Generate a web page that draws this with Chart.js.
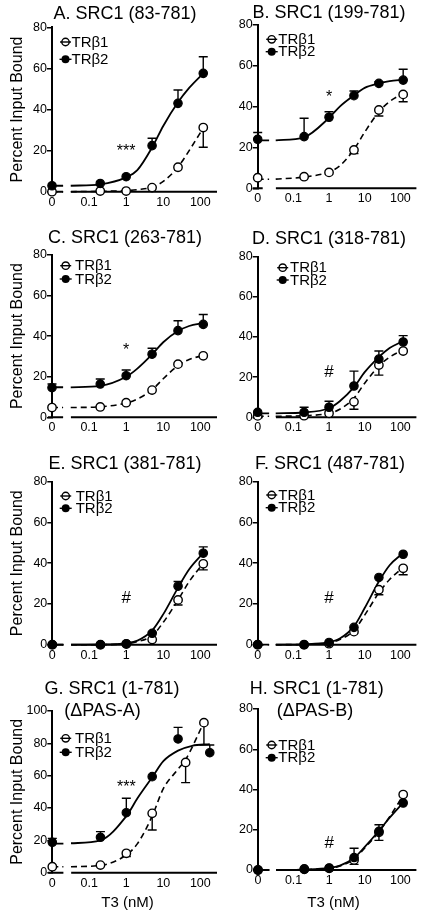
<!DOCTYPE html>
<html><head><meta charset="utf-8">
<script src="https://cdn.jsdelivr.net/npm/chart.js@4.4.1/dist/chart.umd.min.js"></script>
<style>
html,body{margin:0;padding:0;background:#fff;}
#wrap{position:relative;width:422px;height:912px;overflow:hidden;background:#fff;}
#wrap canvas{position:absolute;left:0;top:0;}
</style>
</head><body><div id="wrap"></div>
<script>
// ---------- data ----------
const X_TICK_VALUES = [0, 0.1, 1, 10, 100];
const X_TICK_LABELS = ['0', '0.1', '1', '10', '100'];
const CONC = [0, 0.2, 1, 5, 25, 120];
const FIT_CONC = [0, 0.032, 0.2, 1, 2, 5, 10, 25, 50, 120];
const G_CONC_B1 = [0, 0.2, 1, 5, 40, 125];
const G_CONC_B2 = [0, 0.2, 1, 5, 25, 180];
const G_FIT_CONC_B1 = [0, 0.032, 0.2, 1, 2, 5, 10, 25, 40, 125];
const G_FIT_CONC_B2 = [0, 0.032, 0.2, 1, 2, 5, 10, 25, 60, 180];

const A_B1 = [0, 0.3, 0.3, 2, 11.9, 31.2];
const A_B1_ERR = [0, 0, 0, 0, 0, 9.6];
const A_B2 = [2.9, 4, 7.3, 22.4, 43, 57.6];
const A_B2_ERR = [0, 0, 0, 3.6, 6.5, 8.1];
const A_FIT1 = [0, 0, 0.2, 0.5, 1, 2.2, 5, 12, 20, 31];
const A_FIT2 = [2.9, 2.9, 3.6, 7, 10.5, 21.5, 32, 43.5, 50.5, 57.6];

const B_B1 = [5.2, 5.7, 7.8, 18.8, 38.4, 46];
const B_B1_ERR = [0, 0, 0, 1.8, 3, 3.6];
const B_B2 = [24, 25.3, 34.8, 45.4, 51.4, 53];
const B_B2_ERR = [3.3, 9, 2.7, 2.3, 0.8, 5.3];
const B_FIT1 = [4.4, 4.5, 5.5, 8, 11, 19, 27.5, 37.5, 42.5, 46.5];
const B_FIT2 = [23.5, 23.5, 25, 34.5, 40, 45.5, 49.2, 51.4, 52.5, 53.2];

const C_B1 = [4.8, 5.1, 7.2, 13.4, 26.2, 30.3];
const C_B1_ERR = [0, 0, 0, 0, 0, 0];
const C_B2 = [14.6, 16.4, 20.5, 31.1, 42.7, 45.8];
const C_B2_ERR = [1.8, 2.5, 2.8, 2.9, 4.9, 4.9];
const C_FIT1 = [4.8, 4.8, 5.2, 7, 9, 13.5, 19, 25.5, 28.5, 30.5];
const C_FIT2 = [14.8, 14.8, 15.5, 20, 24, 31, 37, 42.5, 45, 46.5];

const D_B1 = [0.7, 0.8, 2, 7.7, 26, 33];
const D_B1_ERR = [0, 0, 0, 3.7, 5, 0];
const D_B2 = [2.5, 2.5, 5, 15.6, 29, 37.5];
const D_B2_ERR = [0, 2.5, 3, 7.4, 4, 3.2];
const D_FIT1 = [0.5, 0.5, 0.8, 2, 4, 9.5, 17, 25.5, 30, 33.5];
const D_FIT2 = [2, 2, 2.4, 4.5, 8, 15, 22.5, 30, 34.5, 38];

const E_B1 = [0, 0, 0.3, 2.5, 22, 39.7];
const E_B1_ERR = [0, 0, 0, 0, 2.5, 3];
const E_B2 = [0, 0, 0.5, 5.6, 28.7, 44.9];
const E_B2_ERR = [0, 0, 0, 0.5, 2.3, 3.1];
const E_FIT1 = [0, 0, 0, 0.5, 1.5, 4.5, 11, 22, 31, 40];
const E_FIT2 = [0, 0, 0.1, 0.8, 2, 7, 15, 28, 37, 45];

const F_B1 = [0, 0, 0.5, 6.4, 27, 37.5];
const F_B1_ERR = [0, 0, 0, 0, 2.5, 3.2];
const F_B2 = [0, 0, 1.1, 8.5, 33, 44.4];
const F_B2_ERR = [0, 0, 0, 0, 0, 0];
const F_FIT1 = [0, 0, 0.1, 1, 2.5, 7, 14.5, 25.5, 32, 38];
const F_FIT2 = [0, 0, 0.2, 1.2, 3, 9, 18, 31, 39, 45];

const G_B1 = [3.7, 4.7, 12, 36.7, 68.2, 92.8];
const G_B1_ERR = [0, 0, 2, 10.3, 12.5, 13.8];
const G_B2 = [18.8, 21.9, 37.1, 59.4, 82.7, 74.2];
const G_B2_ERR = [2.4, 3.5, 8.9, 0, 7.2, 4.8];
const G_FIT1 = [3.7, 3.7, 4.5, 11, 18, 35, 52, 64, 70, 93];
const G_FIT2 = [18, 18.2, 20, 35, 46, 59, 69, 75.5, 78.5, 79.5];

const H_B1 = [0, 0.5, 0.8, 5, 18.7, 37.5];
const H_B1_ERR = [0, 0, 0, 2.2, 4, 0];
const H_B2 = [0, 0.3, 1, 6.2, 19.2, 33.3];
const H_B2_ERR = [0, 0, 0, 4.6, 3.3, 0];
const H_FIT1 = [0, 0, 0.2, 0.9, 2, 5.5, 11, 19, 26.5, 37];
const H_FIT2 = [0, 0, 0.2, 1, 2.2, 6, 11.5, 19.5, 26, 33.5];

// ---------- layout ----------
const FONT = '"Liberation Sans", Arial, Helvetica, sans-serif';
const W = 422, H = 912;
const X_MIN = -2, X_MAX = 2.45;
const BRK_LEFT = {segA: -2.11, segB: -1.70, main: -1.49, curveEnd: -1.70};
const BRK_RIGHT = {segA: -2.14, segB: -1.86, main: -1.49, curveEnd: -1.68};

function toU(c) { return c === 0 ? X_MIN : Math.log10(c); }

const PANELS = [
  {L:52, top:27.3, bottom:191.7, col:0, ymax:80, titles:[['A. SRC1 (83-781)',125,19]],
   legend:[65.5,42,59.3,71.5], note:['***',1,21.9],
   c1:CONC, c2:CONC, f1c:FIT_CONC, f2c:FIT_CONC, b1:A_B1, e1:A_B1_ERR, b2:A_B2, e2:A_B2_ERR, f1:A_FIT1, f2:A_FIT2},
  {L:257.7, top:25, bottom:188.3, col:1, ymax:80, titles:[['B. SRC1 (199-781)',329,17.5]],
   legend:[271.7,39.3,51.7,278.3], note:['*',1,46.7],
   c1:CONC, c2:CONC, f1c:FIT_CONC, f2c:FIT_CONC, b1:B_B1, e1:B_B1_ERR, b2:B_B2, e2:B_B2_ERR, f1:B_FIT1, f2:B_FIT2},
  {L:52, top:255, bottom:417.3, col:0, ymax:80, titles:[['C. SRC1 (263-781)',125,243.3]],
   legend:[65.7,265.7,279,75], note:['*',1,35.3],
   c1:CONC, c2:CONC, f1c:FIT_CONC, f2c:FIT_CONC, b1:C_B1, e1:C_B1_ERR, b2:C_B2, e2:C_B2_ERR, f1:C_FIT1, f2:C_FIT2},
  {L:257.7, top:256.7, bottom:417.3, col:1, ymax:80, titles:[['D. SRC1 (318-781)',329,244.3]],
   legend:[282.7,267.7,280,290], note:['#',1,23.3],
   c1:CONC, c2:CONC, f1c:FIT_CONC, f2c:FIT_CONC, b1:D_B1, e1:D_B1_ERR, b2:D_B2, e2:D_B2_ERR, f1:D_FIT1, f2:D_FIT2},
  {L:52.3, top:481.7, bottom:644.7, col:0, ymax:80, titles:[['E. SRC1 (381-781)',125,469.3]],
   legend:[65.7,496,508.3,75.7], note:['#',1,23.4],
   c1:CONC, c2:CONC, f1c:FIT_CONC, f2c:FIT_CONC, b1:E_B1, e1:E_B1_ERR, b2:E_B2, e2:E_B2_ERR, f1:E_FIT1, f2:E_FIT2},
  {L:257.7, top:481.7, bottom:644.7, col:1, ymax:80, titles:[['F. SRC1 (487-781)',330,469.3]],
   legend:[271.7,495,507.7,278.3], note:['#',1,23.5],
   c1:CONC, c2:CONC, f1c:FIT_CONC, f2c:FIT_CONC, b1:F_B1, e1:F_B1_ERR, b2:F_B2, e2:F_B2_ERR, f1:F_FIT1, f2:F_FIT2},
  {L:52.3, top:711, bottom:872.7, col:0, ymax:100, titles:[['G. SRC1 (1-781)',112,694.3],['(\u0394PAS-A)',102.5,716]],
   legend:[65.7,738.3,752.3,75], note:['***',1,55.7], xTitle:[127.5,906.7],
   c1:G_CONC_B1, c2:G_CONC_B2, f1c:G_FIT_CONC_B1, f2c:G_FIT_CONC_B2, b1:G_B1, e1:G_B1_ERR, b2:G_B2, e2:G_B2_ERR, f1:G_FIT1, f2:G_FIT2},
  {L:258, top:709, bottom:870, col:1, ymax:80, titles:[['H. SRC1 (1-781)',316.7,694.3],['(\u0394PAS-B)',315,716]],
   legend:[271.7,745,757.7,278.3], note:['#',1,13.9], xTitle:[333.5,906.7],
   c1:CONC, c2:CONC, f1c:FIT_CONC, f2c:FIT_CONC, b1:H_B1, e1:H_B1_ERR, b2:H_B2, e2:H_B2_ERR, f1:H_FIT1, f2:H_FIT2}
];

function pts(conc, vals) { return conc.map((c, i) => ({x: toU(c), y: vals[i]})); }
function curvePts(conc, vals, brk) {
  const out = [{x: toU(0), y: vals[0]}, {x: brk.curveEnd, y: vals[0]}, {x: (brk.curveEnd + brk.main) / 2, y: null}];
  for (let i = 1; i < conc.length; i++) out.push({x: toU(conc[i]), y: vals[i]});
  return out;
}

const deco = {
  id: 'deco',
  beforeDatasetsDraw(chart) {
    const p = chart.canvas._panel, brk = p.col ? BRK_RIGHT : BRK_LEFT;
    const ctx = chart.ctx, xs = chart.scales.x, ys = chart.scales.y;
    const y0 = ys.getPixelForValue(0);
    ctx.save();
    ctx.strokeStyle = '#000'; ctx.lineWidth = 2; ctx.lineCap = 'butt';
    ctx.beginPath();
    ctx.moveTo(xs.getPixelForValue(brk.segA), y0);
    ctx.lineTo(xs.getPixelForValue(brk.segB), y0);
    ctx.moveTo(xs.getPixelForValue(brk.main), y0);
    ctx.lineTo(xs.right, y0);
    ctx.stroke();
    ctx.lineWidth = 1.4;
    ctx.beginPath();
    const bars = (conc, vals, errs, dir) => {
      for (let i = 0; i < conc.length; i++) {
        if (!errs[i]) continue;
        const px = xs.getPixelForValue(toU(conc[i]));
        const py = ys.getPixelForValue(vals[i]);
        const pe = ys.getPixelForValue(vals[i] + dir * errs[i]);
        ctx.moveTo(px, py); ctx.lineTo(px, pe);
        ctx.moveTo(px - 4.5, pe); ctx.lineTo(px + 4.5, pe);
      }
    };
    bars(p.c1, p.b1, p.e1, -1);
    bars(p.c2, p.b2, p.e2, 1);
    ctx.stroke();
    ctx.restore();
  },
  afterDraw(chart) {
    const p = chart.canvas._panel;
    const ctx = chart.ctx, xs = chart.scales.x, ys = chart.scales.y;
    ctx.save();
    ctx.fillStyle = '#000'; ctx.strokeStyle = '#000';
    // titles
    ctx.font = '18px ' + FONT; ctx.textAlign = 'center'; ctx.textBaseline = 'alphabetic';
    p.titles.forEach(t => ctx.fillText(t[0], t[1], t[2]));
    // legend
    const [lx, ly1, ly2, tx] = p.legend;
    const ds = chart.data.datasets;
    ctx.lineWidth = 1.4;
    ctx.beginPath(); ctx.arc(lx, ly1, 3.7, 0, Math.PI * 2); ctx.fillStyle = '#fff'; ctx.fill(); ctx.stroke();
    ctx.beginPath(); ctx.moveTo(lx - 5.5, ly1); ctx.lineTo(lx + 5.5, ly1); ctx.stroke();
    ctx.beginPath(); ctx.moveTo(lx - 6, ly2); ctx.lineTo(lx + 6, ly2); ctx.stroke();
    ctx.fillStyle = '#000';
    ctx.beginPath(); ctx.arc(lx, ly2, 4, 0, Math.PI * 2); ctx.fill();
    ctx.font = '15px ' + FONT; ctx.textAlign = 'left'; ctx.textBaseline = 'middle';
    ctx.fillText(ds[1].label, tx, ly1 + 0.5);
    ctx.fillText(ds[0].label, tx, ly2 + 0.5);
    // annotation
    const [nt, nc, nv] = p.note;
    const star = nt.indexOf('*') >= 0;
    const size = star ? 16 : 17;
    ctx.font = size + 'px ' + FONT; ctx.textAlign = 'center'; ctx.textBaseline = 'alphabetic';
    ctx.fillText(nt, xs.getPixelForValue(toU(nc)), ys.getPixelForValue(nv) + (star ? 0.59 : 0.36) * size);
    // x title
    if (p.xTitle) {
      ctx.font = '15px ' + FONT;
      ctx.fillText('T3 (nM)', p.xTitle[0], p.xTitle[1]);
    }
    ctx.restore();
  }
};

Chart.defaults.font.family = FONT;
Chart.defaults.color = '#000';

const wrap = document.getElementById('wrap');
PANELS.forEach(p => {
  const canvas = document.createElement('canvas');
  canvas.width = W; canvas.height = H;
  canvas._panel = p;
  wrap.appendChild(canvas);
  const brk = p.col ? BRK_RIGHT : BRK_LEFT;
  const padL = p.col ? 215 : 0;
  const padR = p.col ? 0 : 205;
  new Chart(canvas, {
    type: 'scatter',
    data: {datasets: [
      {label: 'TR\u03B22', data: pts(p.c2, p.b2), showLine: false, pointRadius: 4.2, pointBackgroundColor: '#000', pointBorderColor: '#000', pointBorderWidth: 1.2, clip: false},
      {label: 'TR\u03B21', data: pts(p.c1, p.b1), showLine: false, pointRadius: 4.2, pointBackgroundColor: '#fff', pointBorderColor: '#000', pointBorderWidth: 1.4, clip: false},
      {label: 'fit2', data: curvePts(p.f2c, p.f2, brk), showLine: true, borderColor: '#000', borderWidth: 1.8, pointRadius: 0, cubicInterpolationMode: 'monotone', spanGaps: false, clip: false},
      {label: 'fit1', data: curvePts(p.f1c, p.f1, brk), showLine: true, borderColor: '#000', borderWidth: 1.6, borderDash: [6, 4], pointRadius: 0, cubicInterpolationMode: 'monotone', spanGaps: false, clip: false}
    ]},
    options: {
      responsive: false, animation: false, devicePixelRatio: 1,
      events: [],
      layout: {padding: {left: padL, right: padR, top: p.top, bottom: H - 22 - p.bottom}},
      plugins: {legend: {display: false}, tooltip: {enabled: false}, title: {display: false}},
      scales: {
        x: {
          type: 'linear', min: X_MIN, max: X_MAX,
          afterFit(s) { s.height = 22; },
          afterBuildTicks(s) { s.ticks = X_TICK_VALUES.map(v => ({value: toU(v)})); },
          ticks: {callback: (v, i) => X_TICK_LABELS[i], font: {size: 12.5}, color: '#000', padding: 3, maxRotation: 0, autoSkip: false},
          grid: {display: true, drawOnChartArea: false, drawTicks: false, tickLength: 0},
          border: {display: false}
        },
        y: {
          min: 0, max: p.ymax,
          afterFit(s) { s.width = p.L - padL; },
          ticks: {stepSize: 20, font: {size: 12.5}, color: '#000', padding: 0},
          grid: {drawOnChartArea: false, drawTicks: true, tickLength: 5, color: '#000', lineWidth: 1.5},
          border: {display: true, color: '#000', width: 2},
          title: {display: !p.col, text: 'Percent Input Bound', font: {size: 16}, color: '#000', padding: {top: 8, bottom: 0}}
        }
      }
    },
    plugins: [deco]
  });
});
</script>
</body></html>
